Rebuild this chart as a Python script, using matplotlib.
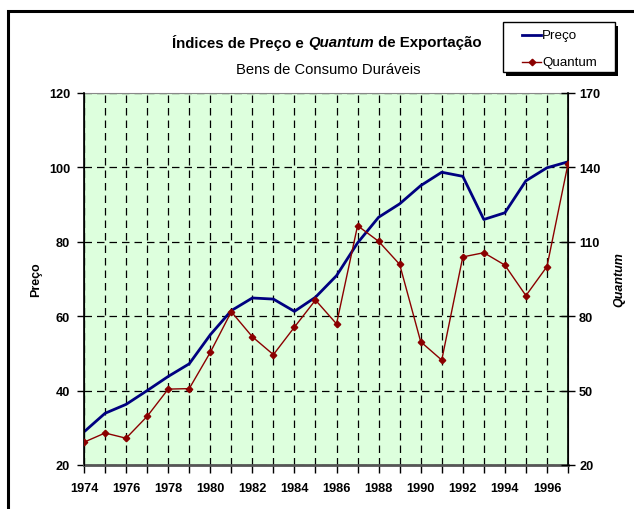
import numpy as np
import matplotlib.pyplot as plt
from matplotlib.patches import Rectangle
from matplotlib.lines import Line2D
from matplotlib.ticker import MultipleLocator

# dados
anos = list(range(1974, 1998))
preco = [28.9, 33.9, 36.3, 40.0, 43.8, 47.2, 55.0, 61.5, 64.9, 64.6, 61.3, 65.1,
         70.9, 79.7, 86.6, 90.2, 95.1, 98.7, 97.6, 86.0, 87.8, 96.4, 99.9, 101.5]
quantum = [29.2, 32.9, 30.8, 39.6, 50.6, 50.8, 65.4, 81.8, 71.7, 64.5, 75.6, 86.5,
           76.9, 116.5, 110.2, 100.9, 69.7, 62.3, 103.9, 105.6, 100.6, 88.3, 100.0, 141.4]

plt.rcParams['font.family'] = ['Liberation Sans', 'DejaVu Sans']

fig = plt.figure(figsize=(6.34, 5.10), dpi=100)
W, H = 634, 510
ax = fig.add_axes([84 / W, 1 - 466 / H, (568 - 84) / W, (466 - 94) / H])
ax.set_facecolor('#DDFFDD')

cor_p = '#000080'
cor_q = '#8B0000'
ax.plot(anos, preco, color=cor_p, lw=2, zorder=3)
ax.set_xlim(1974, 1997)
ax.set_ylim(20, 120)
ax.set_yticks(np.arange(20, 121, 20))
ax.xaxis.set_minor_locator(MultipleLocator(1))
ax.set_xticks(range(1974, 1997, 2))
ax.grid(True, which='both', axis='x', color='black', ls=(0, (6, 4)), lw=0.9)
ax.grid(True, which='major', axis='y', color='black', ls=(0, (6, 4)), lw=0.9)
ax.set_axisbelow(True)
ax.tick_params(axis='x', which='both', direction='out', length=6, width=1, pad=6,
               labelsize=9.2)
ax.tick_params(axis='y', direction='out', length=5, width=1, pad=5, labelsize=9.2)
for lbl in ax.get_xticklabels() + ax.get_yticklabels():
    lbl.set_fontweight('bold')
ax.spines['bottom'].set_color('#555555')
ax.spines['bottom'].set_linewidth(2)
ax.spines['top'].set_color('#888888')
ax.spines['left'].set_linewidth(1.2)
ax.set_ylabel('Preço', fontsize=9, fontweight='bold')
ax.yaxis.set_label_coords((42 - 84) / (568 - 84), 0.5)

ax2 = ax.twinx()
ax2.plot(anos, quantum, color=cor_q, lw=1, marker='D', ms=3.3, zorder=4)
ax2.set_ylim(20, 170)
ax2.set_yticks(np.arange(20, 171, 30))
ax2.tick_params(axis='y', direction='inout', length=10, width=1, pad=3, labelsize=9.2)
for lbl in ax2.get_yticklabels():
    lbl.set_fontweight('bold')
ax2.spines['right'].set_linewidth(1.2)
ax2.spines['bottom'].set_visible(False)
ax2.spines['top'].set_visible(False)
ax2.set_ylabel('Quantum', fontsize=9, fontweight='bold', fontstyle='italic')
ax2.yaxis.set_label_coords((613 - 84) / (568 - 84), 0.5)

# moldura externa
fig.patches.append(Rectangle((8 / W, -0.1), 1.2, 1.1 - 12 / H,
                             transform=fig.transFigure, fill=False,
                             ec='black', lw=2.2, zorder=0))

# titulo com Quantum em italico
partes = [('Índices de Preço e ', 'normal'), ('Quantum', 'italic'),
          (' de Exportação', 'normal')]
r = fig.canvas.get_renderer()
textos = []
for s, st in partes:
    t = fig.text(0, 1 - 43 / H, s, fontsize=10.8, fontweight='bold', fontstyle=st,
                 va='center')
    textos.append(t)
larg = [t.get_window_extent(r).width for t in textos]
x0 = 327 - sum(larg) / 2
for t, w in zip(textos, larg):
    t.set_x(x0 / W)
    x0 += w
fig.text(328 / W, 1 - 70 / H, 'Bens de Consumo Duráveis', fontsize=10.6,
         ha='center', va='center')

# legenda desenhada a mao (caixa com sombra preta)
fig.patches.append(Rectangle((506 / W, 1 - 76.5 / H), 112 / W, 50 / H,
                             transform=fig.transFigure, fc='black', ec='none',
                             zorder=5))
fig.patches.append(Rectangle((503 / W, 1 - 73.3 / H), 112 / W, 50 / H,
                             transform=fig.transFigure, fc='white', ec='black',
                             lw=1, zorder=6))
fig.add_artist(Line2D([522 / W, 541 / W], [1 - 35.7 / H] * 2, color=cor_p, lw=2,
                      transform=fig.transFigure, zorder=7))
fig.add_artist(Line2D([522 / W, 541 / W], [1 - 62.7 / H] * 2, color=cor_q, lw=1,
                      transform=fig.transFigure, zorder=7))
fig.add_artist(Line2D([531.5 / W], [1 - 62.7 / H], color=cor_q, marker='D', ms=3.3,
                      transform=fig.transFigure, zorder=7))
fig.text(542 / W, 1 - 35.7 / H, 'Preço', fontsize=9.6, va='center', zorder=7)
fig.text(542 / W, 1 - 62.7 / H, 'Quantum', fontsize=9.6, va='center', zorder=7)

fig.savefig('out.png', dpi=100)
